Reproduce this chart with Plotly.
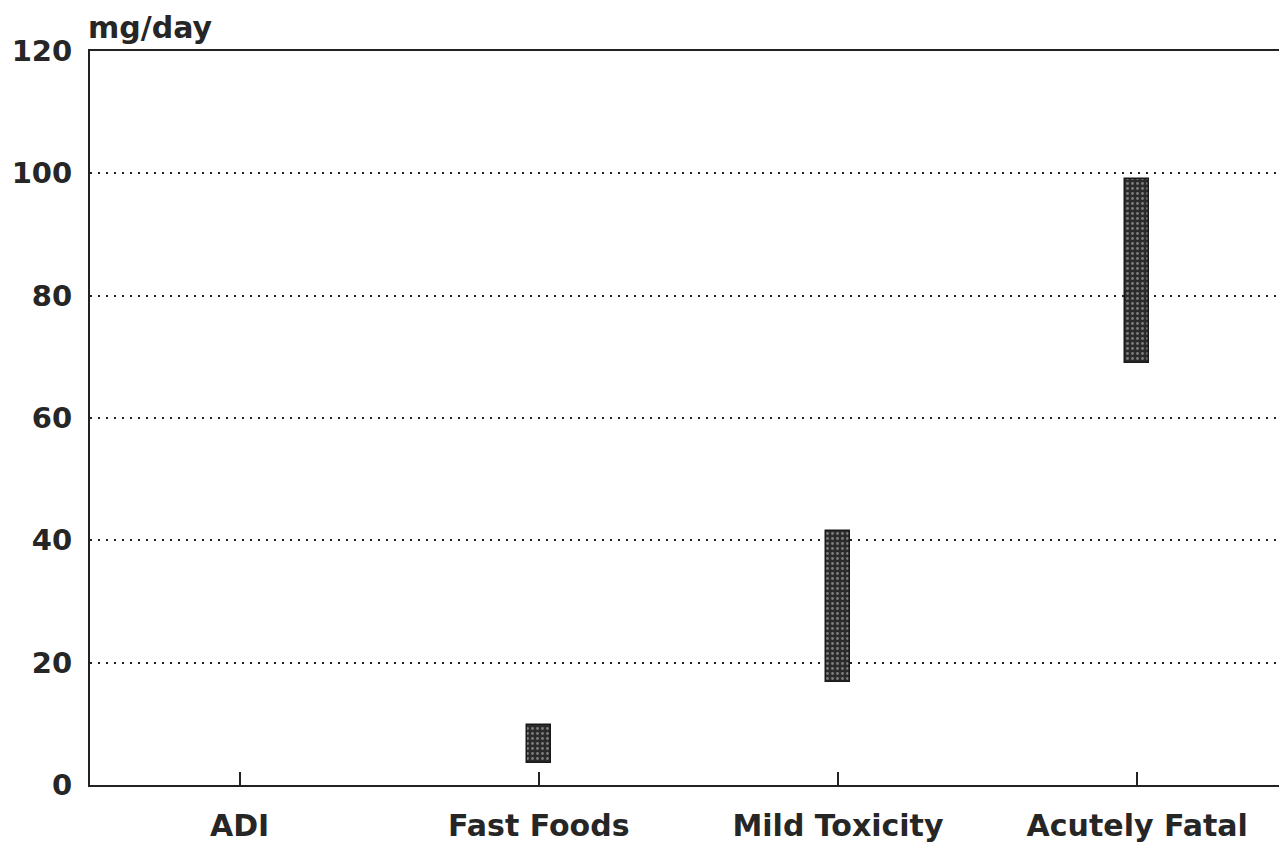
import plotly.graph_objects as go

categories = ["ADI", "Fast Foods", "Mild Toxicity", "Acutely Fatal"]
low_values = [None, 3.6, 16.8, 69.0]
high_values = [None, 9.8, 41.5, 99.0]
y_ticks = [0, 20, 40, 60, 80, 100, 120]
y_title = "mg/day"

spans = [None if (l is None or h is None) else h - l for l, h in zip(low_values, high_values)]

FONT = "DejaVu Sans"
TXT = "#262626"

fig = go.Figure()
fig.add_trace(go.Bar(
    x=list(range(len(categories))),
    y=spans,
    base=low_values,
    width=0.08,
    marker=dict(
        color="#2b2b2b",
        line=dict(color="#1a1a1a", width=1.5),
        pattern=dict(shape=".", fgcolor="#d0d0d0", size=5, solidity=0.25, fillmode="overlay"),
    ),
    showlegend=False,
    hoverinfo="skip",
))

fig.update_layout(
    width=1279, height=854,
    margin=dict(l=90, r=0, t=51, b=69),
    paper_bgcolor="white", plot_bgcolor="white",
    font=dict(family=FONT, color=TXT),
    bargap=0,
)
fig.update_xaxes(
    range=[-0.5, 3.474],
    tickmode="array", tickvals=list(range(len(categories))), ticktext=categories,
    ticks="inside", ticklen=13, tickwidth=2, tickcolor="#222",
    showline=True, linecolor="#222", linewidth=2, mirror=True,
    showgrid=False, zeroline=False,
    tickfont=dict(family=FONT, size=30, weight="bold", color=TXT),
    ticklabelstandoff=13,
)
fig.update_yaxes(
    range=[0, 120],
    tickmode="array", tickvals=y_ticks, ticktext=[str(v) for v in y_ticks],
    ticks="", showline=True, linecolor="#222", linewidth=2,
    showgrid=True, gridcolor="#222", gridwidth=2, griddash="2px,6px",
    zeroline=False,
    tickfont=dict(family=FONT, size=29, weight="bold", color=TXT),
    ticklabelstandoff=10,
)
fig.add_annotation(
    text=y_title, xref="paper", yref="paper", x=0, y=1, xanchor="left", yanchor="bottom",
    yshift=4, xshift=-4, showarrow=False,
    font=dict(size=30, weight="bold", color=TXT, family=FONT),
)

fig.write_html(
    "out.html",
    config={"displayModeBar": False},
    post_script="document.body.style.margin='0';document.body.style.overflow='hidden';",
)
